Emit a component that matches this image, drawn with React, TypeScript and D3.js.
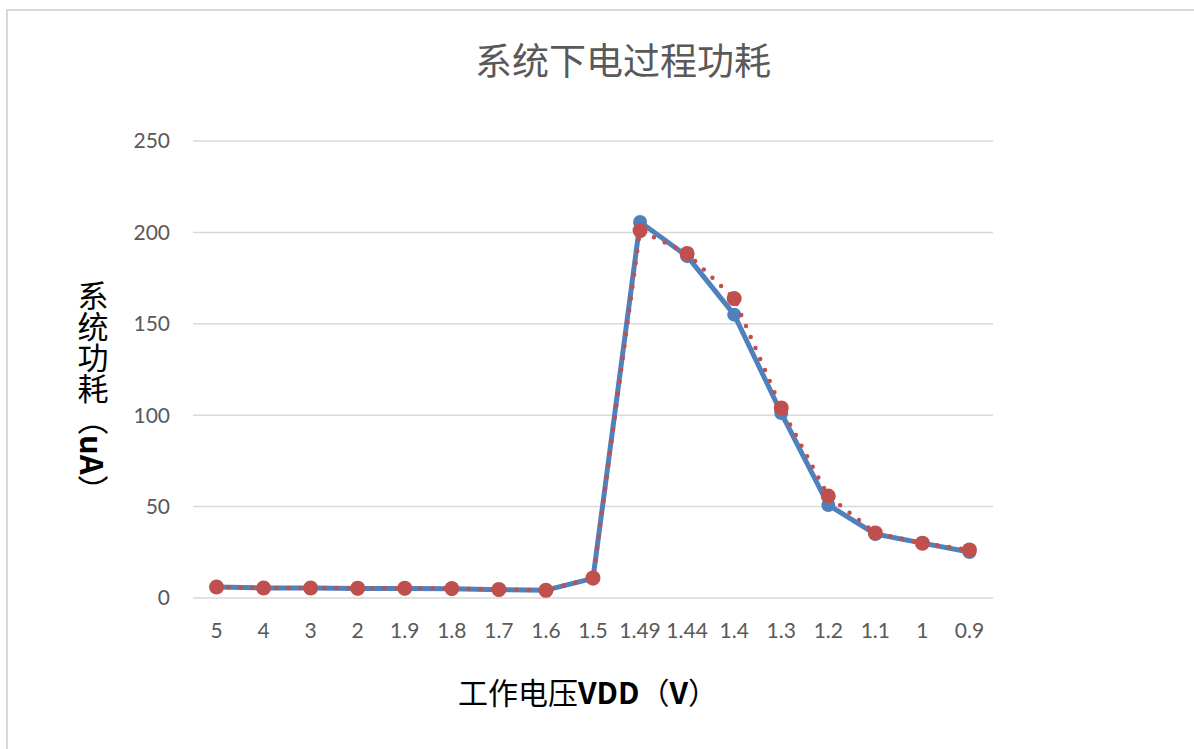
import React from "react";
import * as d3 from "d3";

const categories = ["5", "4", "3", "2", "1.9", "1.8", "1.7", "1.6", "1.5", "1.49", "1.44", "1.4", "1.3", "1.2", "1.1", "1", "0.9"];
const seriesBlue = [6.0, 5.5, 5.5, 5.2, 5.2, 5.0, 4.5, 4.3, 10.7, 205.7, 187.0, 155.0, 101.2, 50.9, 35.0, 30.0, 25.2];
const seriesRed = [6.0, 5.5, 5.5, 5.4, 5.4, 5.2, 4.7, 4.2, 11.0, 201.0, 188.5, 163.8, 104.0, 55.8, 35.6, 30.0, 26.3];
const yTicks = [0, 50, 100, 150, 200, 250];

const W = 1194;
const H = 749;
const plotLeft = 193;
const plotRight = 993;
const plotTop = 141;
const plotBottom = 598;

const BLUE = "#4f81bd";
const RED = "#c0504d";
const GRID = "#d9d9d9";
const TICK = "#595959";
const tickFont = "Lato, 'Open Sans', 'Noto Sans', sans-serif";
const cjkFont = "'Noto Sans CJK SC', 'Noto Sans', sans-serif";

export default function App() {
  const x = d3.scaleBand<string>().domain(categories).range([plotLeft, plotRight]).padding(0);
  const y = d3.scaleLinear().domain([0, 250]).range([plotBottom, plotTop]);
  const cx = (c: string) => (x(c) as number) + x.bandwidth() / 2;

  const line = d3
    .line<number>()
    .x((_, i) => cx(categories[i]))
    .y((d) => y(d));

  return (
    <svg
      width={W}
      height={H}
      style={{ position: "absolute", left: 0, top: 0, background: "#fff" }}
    >
      <rect x={0} y={0} width={W} height={H} fill="#fff" />
      {/* frame */}
      <rect x={7} y={10} width={W + 20} height={H + 20} fill="none" stroke="#d9d9d9" strokeWidth={2} />

      {/* title */}
      <text x={623} y={75} textAnchor="middle" fontFamily={cjkFont} fontSize={37} fill={TICK}>
        系统下电过程功耗
      </text>

      {/* gridlines */}
      {yTicks.map((t) => (
        <line key={t} x1={plotLeft} x2={plotRight} y1={y(t)} y2={y(t)} stroke={GRID} strokeWidth={1.5} />
      ))}

      {/* y tick labels */}
      {yTicks.map((t) => (
        <text
          key={"yl" + t}
          x={170}
          y={y(t)}
          dy="0.35em"
          textAnchor="end"
          fontFamily={tickFont}
          fontSize={21}
          fill={TICK}
        >
          {t}
        </text>
      ))}

      {/* x tick labels */}
      {categories.map((c) => (
        <text
          key={"xl" + c}
          x={cx(c)}
          y={631}
          dy="0.35em"
          textAnchor="middle"
          fontFamily={tickFont}
          fontSize={21}
          fill={TICK}
        >
          {c}
        </text>
      ))}

      {/* blue series */}
      <path d={line(seriesBlue) || ""} fill="none" stroke={BLUE} strokeWidth={5} strokeLinejoin="round" />
      {seriesBlue.map((v, i) => (
        <circle key={"b" + i} cx={cx(categories[i])} cy={y(v)} r={7} fill={BLUE} />
      ))}

      {/* red series */}
      <path
        d={line(seriesRed) || ""}
        fill="none"
        stroke={RED}
        strokeWidth={4.5}
        strokeLinecap="round"
        strokeDasharray="0 12"
      />
      {seriesRed.map((v, i) => (
        <circle key={"r" + i} cx={cx(categories[i])} cy={y(v)} r={7.5} fill={RED} />
      ))}

      {/* y axis title */}
      <text
        x={93}
        y={280}
        fontFamily={cjkFont}
        fontSize={31}
        fill="#000"
        style={{ writingMode: "vertical-rl" } as any}
      >
        <tspan>系统功耗（</tspan>
        <tspan fontWeight="bold">uA</tspan>
        <tspan>）</tspan>
      </text>

      {/* x axis title */}
      <text x={588} y={704} textAnchor="middle" fontFamily={cjkFont} fontSize={30} fill="#000">
        <tspan>工作电压</tspan>
        <tspan fontWeight="bold">VDD</tspan>
        <tspan>（</tspan>
        <tspan fontWeight="bold">V</tspan>
        <tspan>）</tspan>
      </text>
    </svg>
  );
}
